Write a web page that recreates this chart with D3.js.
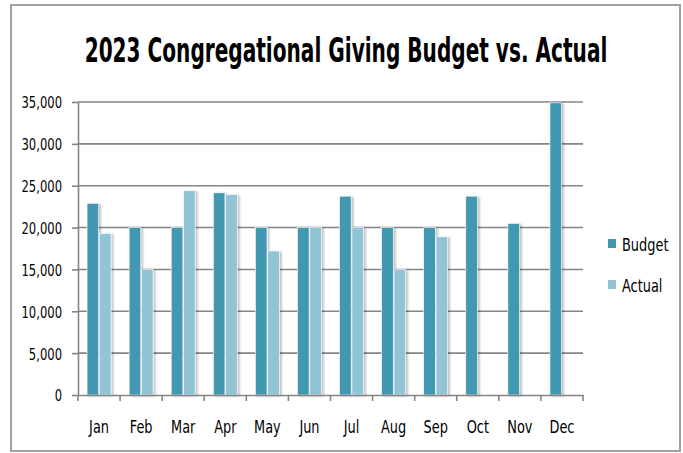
<!DOCTYPE html>
<html>
<head>
<meta charset="utf-8">
<script src="https://cdn.jsdelivr.net/npm/d3@7"></script>
<style>
  body { margin: 0; background: #fff; }
  text { font-family: "Liberation Sans Narrow", "DejaVu Sans Condensed", "Open Sans", sans-serif; }
</style>
</head>
<body>
<div id="chart"></div>
<script>
// 2023 giving, budget vs actual
const months = ["Jan", "Feb", "Mar", "Apr", "May", "Jun", "Jul", "Aug", "Sep", "Oct", "Nov", "Dec"];
const series = ["Budget", "Actual"];
const budget = [22900, 20000, 20000, 24150, 20000, 20000, 23750, 20000, 20000, 23750, 20500, 34900];
const actual = [19300, 15000, 24400, 23950, 17200, 20000, 20000, 15000, 18900, null, null, null];
const yTicks = [0, 5000, 10000, 15000, 20000, 25000, 30000, 35000];
const colors = { Budget: "#4398b0", Actual: "#93c4d6" };

const width = 683;
const height = 453;
const margin = { top: 102, right: 100, bottom: 58, left: 78 };

// narrow the text to look like the Calibri used in the original
function squeeze(sel, f) {
    sel.each(function () {
        const w = this.getComputedTextLength();
        d3.select(this)
            .attr("textLength", w * f)
            .attr("lengthAdjust", "spacingAndGlyphs");
    });
}

const svg = d3.select("#chart")
    .append("svg")
    .attr("width", width)
    .attr("height", height);

// soft shadow for the bars
const defs = svg.append("defs");
defs.append("filter")
    .attr("id", "shadow")
    .attr("x", "-20%").attr("y", "-5%").attr("width", "160%").attr("height", "110%")
    .append("feDropShadow")
    .attr("dx", 2).attr("dy", 1).attr("stdDeviation", 1.2)
    .attr("flood-color", "#000").attr("flood-opacity", 0.25);

// outer border
svg.append("rect")
    .attr("x", 11).attr("y", 5)
    .attr("width", 669).attr("height", 446)
    .attr("fill", "none")
    .attr("stroke", "#a0a0a0")
    .attr("stroke-width", 2);

const x = d3.scaleBand()
    .domain(months)
    .range([margin.left, width - margin.right])
    .paddingInner(0.43)
    .paddingOuter(0.215);

const xCat = d3.scaleBand()
    .domain(months)
    .range([margin.left, width - margin.right]);

const x1 = d3.scaleBand()
    .domain(series)
    .range([0, x.bandwidth()])
    .paddingInner(0.06);

const y = d3.scaleLinear()
    .domain([0, 35000])
    .range([height - margin.bottom, margin.top]);

// gridlines + left axis
const yAxis = svg.append("g")
    .attr("transform", `translate(${margin.left},0)`)
    .call(d3.axisLeft(y)
        .tickValues(yTicks)
        .tickSize(6)
        .tickSizeOuter(0)
        .tickFormat(d3.format(",")));
yAxis.select(".domain").attr("stroke", "#858585").attr("stroke-width", 1.6);
yAxis.selectAll(".tick line").attr("stroke", "#858585").attr("stroke-width", 1.6);
yAxis.selectAll(".tick text")
    .attr("x", -16)
    .attr("dy", "0.36em")
    .style("font-size", "16.5px")
    .attr("fill", "#000")
    .call(squeeze, 0.78);

svg.append("g")
    .selectAll("line")
    .data(yTicks.filter(d => d > 0))
    .join("line")
    .attr("x1", margin.left)
    .attr("x2", width - margin.right)
    .attr("y1", d => y(d))
    .attr("y2", d => y(d))
    .attr("stroke", "#858585")
    .attr("stroke-width", 1.6);

// bars
const groups = svg.append("g")
    .selectAll("g")
    .data(months)
    .join("g")
    .attr("transform", d => `translate(${x(d)},0)`);

groups.selectAll("rect")
    .data((m, i) => series.map(s => ({ key: s, value: s === "Budget" ? budget[i] : actual[i] }))
        .filter(d => d.value !== null))
    .join("rect")
    .attr("x", d => x1(d.key))
    .attr("y", d => y(d.value))
    .attr("width", x1.bandwidth())
    .attr("height", d => y(0) - y(d.value))
    .attr("fill", d => colors[d.key])
    .attr("stroke", "#ffffff")
    .attr("stroke-width", 0.6)
    .attr("filter", "url(#shadow)");

// bottom axis: labels at centres, ticks between categories
const xAxis = svg.append("g")
    .attr("transform", `translate(0,${y(0)})`)
    .call(d3.axisBottom(xCat).tickSize(0).tickPadding(26));
xAxis.select(".domain").attr("stroke", "#858585").attr("stroke-width", 1.6);
xAxis.selectAll(".tick text")
    .style("font-size", "17.5px")
    .attr("fill", "#000")
    .call(squeeze, 0.82);

svg.append("g")
    .selectAll("line")
    .data(months.concat(["end"]))
    .join("line")
    .attr("x1", d => d === "end" ? xCat.range()[1] : xCat(d))
    .attr("x2", d => d === "end" ? xCat.range()[1] : xCat(d))
    .attr("y1", y(0))
    .attr("y2", y(0) + 6)
    .attr("stroke", "#858585")
    .attr("stroke-width", 1.6);

// legend
const legend = svg.append("g")
    .attr("transform", "translate(608,239)");
series.forEach((s, i) => {
    const item = legend.append("g").attr("transform", `translate(0,${i * 41})`);
    item.append("rect")
        .attr("width", 8).attr("height", 9)
        .attr("fill", colors[s]);
    item.append("text")
        .attr("x", 14).attr("y", 12)
        .style("font-size", "17.5px")
        .text(s)
        .call(squeeze, 0.82);
});

// title, narrowed with a transform so its box stays inside the frame
const title = svg.append("text")
    .attr("text-anchor", "middle")
    .style("font-size", "34px")
    .style("font-weight", "bold")
    .text("2023 Congregational Giving Budget vs. Actual");
const tw = title.node().getComputedTextLength();
title.attr("transform", `translate(346,62) scale(${523 / tw},1)`);
</script>
</body>
</html>
